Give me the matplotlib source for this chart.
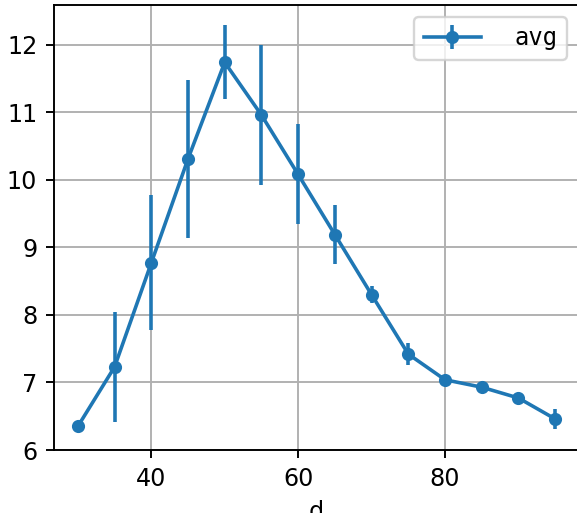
import numpy as np
import matplotlib
matplotlib.use("Agg")
import matplotlib.pyplot as plt
from matplotlib.ticker import MultipleLocator

d = [30, 35, 40, 45, 50, 55, 60, 65, 70, 75, 80, 85, 90, 95]
avg = [6.35, 7.23, 8.77, 10.31, 11.74, 10.96, 10.08, 9.19, 8.30, 7.42, 7.04, 6.93, 6.77, 6.46]
err = [0.0, 0.82, 1.0, 1.17, 0.55, 1.03, 0.74, 0.44, 0.13, 0.16, 0.03, 0.03, 0.04, 0.15]

dpi = 172
fig = plt.figure(figsize=(577 / dpi, 513 / dpi), dpi=dpi)
ax = fig.add_axes([54 / 577, 63 / 513, 525 / 577, 445 / 513])

ax.errorbar(d, avg, yerr=err, color="#1f77b4", marker="o", markersize=4.5,
            linewidth=1.5, elinewidth=1.5, label="avg")
ax.set_ylim(bottom=6)
ax.xaxis.set_major_locator(MultipleLocator(20))
ax.yaxis.set_major_locator(MultipleLocator(1))
ax.set_xlabel("d")
ax.grid(True)
ax.legend(loc="upper right", handlelength=2.4, handletextpad=1.4,
          prop={"family": ["DejaVu Sans Mono"]})

fig.savefig("out.png", dpi=dpi)
